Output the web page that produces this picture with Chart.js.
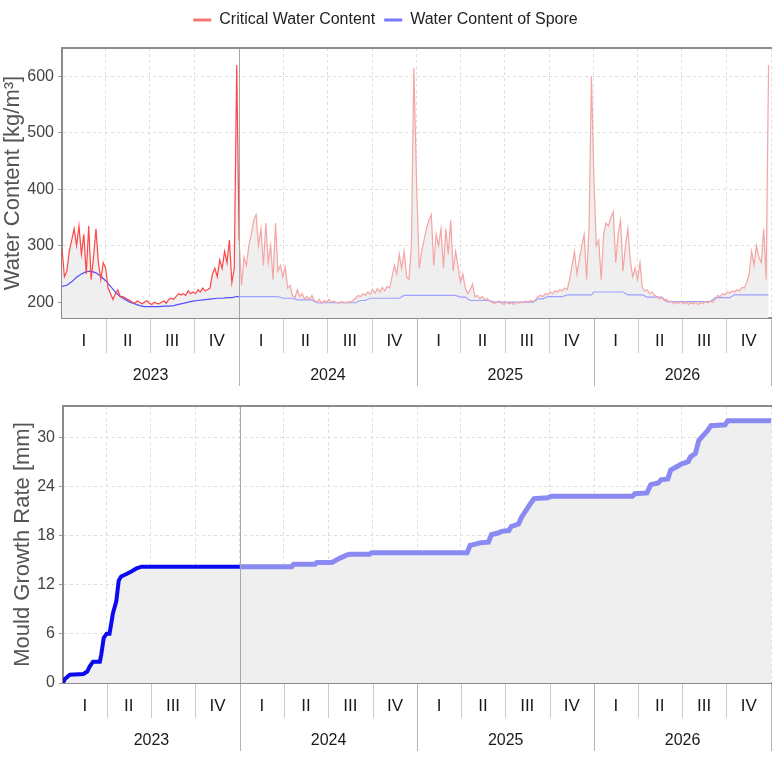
<!DOCTYPE html>
<html>
<head>
<meta charset="utf-8">
<script src="https://cdn.jsdelivr.net/npm/chart.js@4.4.0/dist/chart.umd.min.js"></script>
<style>
  body { margin: 0; background: #fff; width: 772px; height: 758px; overflow: hidden; }
  canvas { display: block; }
</style>
</head>
<body>
<canvas id="waterChart" width="772" height="390"></canvas>
<canvas id="mouldChart" width="772" height="368"></canvas>
<script>
// ---- data ----
var years = [2023, 2024, 2025, 2026];
var quarterNames = ['I', 'II', 'III', 'IV'];
var waterTicks = [200, 300, 400, 500, 600];
var mouldTicks = [0, 6, 12, 18, 24, 30];

// critical water content, one value every 5 days (day 0..360 of each year)
var critStep = 5;
var crit2023 = [295, 245, 255, 290, 310, 330, 300, 335, 285, 320,
  250, 335, 240, 280, 330, 270, 240, 270, 260, 225,
  215, 205, 215, 222, 210, 210, 208, 205, 203, 200,
  198, 202, 200, 197, 200, 203, 198, 196, 200, 198,
  197, 200, 202, 198, 205, 207, 205, 210, 215, 213,
  215, 212, 220, 215, 218, 215, 222, 218, 225, 220,
  222, 225, 250, 260, 245, 275, 260, 290, 270, 310,
  235, 260, 620];
var crit2024 = [310, 230, 280, 265, 300, 320, 345, 355, 300, 330,
  265, 340, 270, 300, 240, 340, 255, 265, 245, 262,
  225, 230, 212, 208, 222, 210, 215, 205, 210, 205,
  212, 203, 200, 205, 198, 203, 200, 205, 200, 202,
  200, 198, 201, 200, 199, 201, 200, 203, 207, 212,
  210, 215, 212, 218, 214, 222, 216, 224, 218, 226,
  220, 228, 225, 245, 265, 250, 285, 260, 290, 245,
  240, 300, 615];
var crit2025 = [400, 260, 290, 310, 330, 345, 355, 265, 320, 300,
  330, 260, 330, 285, 345, 255, 290, 265, 235, 250,
  225, 215, 222, 232, 210, 212, 206, 210, 204, 207,
  202, 200, 198, 200, 202, 198, 196, 200, 197, 199,
  196, 200, 198, 201, 199, 202, 200, 203, 201, 205,
  210, 212, 210, 215, 213, 218, 215, 220, 218, 222,
  220, 225, 222, 240, 265, 290, 250, 275, 300, 320,
  240, 330, 600];
var crit2026 = [420, 300, 310, 240, 320, 340, 335, 350, 360, 270,
  320, 345, 255, 300, 330, 275, 245, 260, 240, 270,
  225, 220, 222, 215, 218, 212, 210, 206, 208, 203,
  205, 200, 202, 197, 200, 198, 201, 197, 200, 196,
  199, 197, 200, 196, 199, 198, 201, 199, 202, 200,
  205, 212, 210, 215, 213, 218, 216, 220, 218, 222,
  220, 226, 225, 235, 250, 290, 265, 300, 280, 270,
  330, 240, 620];

// water content of spore, one value every 10 days
var sporeStep = 10;
var spore2023 = [228, 230, 236, 244, 250, 254, 255, 252, 246, 238,
  228, 218, 210, 205, 200, 197, 194, 192, 192, 192,
  192, 193, 193, 194, 196, 198, 200, 202, 203, 204,
  205, 206, 207, 207, 208, 208, 210];
var spore2024 = [210, 210, 210, 210, 210, 210, 210, 210, 210, 207,
  207, 207, 204, 204, 204, 204, 199, 199, 199, 199,
  199, 199, 199, 199, 199, 203, 203, 207, 207, 207,
  207, 207, 207, 207, 212, 212, 212];
var spore2025 = [212, 212, 212, 212, 212, 212, 212, 212, 212, 209,
  209, 203, 203, 203, 203, 203, 200, 200, 200, 200,
  200, 200, 200, 200, 200, 206, 206, 210, 210, 210,
  210, 213, 213, 213, 213, 213, 213];
var spore2026 = [218, 218, 218, 218, 218, 218, 218, 213, 213, 213,
  213, 209, 209, 209, 209, 201, 201, 201, 201, 201,
  201, 201, 201, 201, 201, 208, 208, 208, 208, 213,
  213, 213, 213, 213, 213, 213, 213];

// mould growth, breakpoints (day since 1 Jan 2023, mm)
var growthDays = [0, 4, 14, 42, 50, 55, 62, 76, 79, 84, 90, 96, 103, 110, 115, 120, 131, 141, 152, 162,
  365, 472, 476, 520, 524, 555, 570, 585, 592, 632, 637, 834, 840, 855, 860, 878, 884, 898, 905, 920,
  925, 940, 946, 966, 972, 1000, 1008, 1175, 1180, 1205, 1213, 1228, 1234, 1248, 1254, 1270, 1275,
  1290, 1295, 1305, 1312, 1330, 1337, 1366, 1372, 1461];
var growthValues = [0, 0.5, 1.0, 1.1, 1.4, 2.0, 2.6, 2.6, 3.5, 5.5, 6.0, 6.0, 8.5, 10.0, 12.5, 13.0, 13.3, 13.6, 14.0, 14.2,
  14.2, 14.2, 14.5, 14.5, 14.7, 14.7, 15.2, 15.6, 15.7, 15.7, 15.9, 15.9, 16.8, 17.0, 17.1, 17.2, 18.1, 18.3, 18.5, 18.6,
  19.1, 19.4, 20.2, 22.0, 22.5, 22.6, 22.8, 22.8, 23.1, 23.2, 24.2, 24.4, 24.8, 24.9, 26.0, 26.5, 26.7,
  27.0, 27.6, 28.0, 29.6, 30.8, 31.4, 31.5, 32.0, 32.0];

// ---- styling ----
var FONT = '"Liberation Sans", Arial, sans-serif';
var RED = 'rgb(255,70,70)', RED_FADED = 'rgb(245,165,165)';
var BLUE = 'rgb(80,80,255)', BLUE_FADED = 'rgb(160,160,255)';
var DARK_BLUE = 'rgb(10,10,240)', DARK_BLUE_FADED = 'rgb(138,138,242)';
var legendColors = ['rgb(245,120,120)', 'rgb(120,120,250)'];

function dayOf(y, m) { return (Date.UTC(y, m, 1) - Date.UTC(years[0], 0, 1)) / 864e5; }
var yearStarts = years.map(function (y) { return dayOf(y, 0); });
var lastDay = dayOf(years[years.length - 1] + 1, 0);
var firstYearEnd = yearStarts[1];
var quarterStarts = [];
years.forEach(function (y) {
  [0, 3, 6, 9].forEach(function (m) { quarterStarts.push(dayOf(y, m)); });
});
quarterStarts.push(lastDay);

function toPoints(perYear, step) {
  var pts = [];
  perYear.forEach(function (vals, k) {
    vals.forEach(function (v, i) { pts.push({ x: yearStarts[k] + i * step, y: v }); });
  });
  return pts;
}

// top frame, the solid line after the first year and the two-row time axis
var frameAndAxis = {
  id: 'frameAndAxis',
  afterDatasetsDraw: function (chart) {
    var ctx = chart.ctx, a = chart.chartArea, x = chart.scales.x;
    ctx.save();
    var px = Math.round(x.getPixelForValue(firstYearEnd)) + 0.5;
    ctx.strokeStyle = '#a8a8a8';
    ctx.lineWidth = 1;
    ctx.beginPath(); ctx.moveTo(px, a.top); ctx.lineTo(px, a.bottom); ctx.stroke();
    ctx.strokeStyle = '#8c8c8c';
    ctx.lineWidth = 2;
    ctx.beginPath(); ctx.moveTo(a.left - 1, a.top); ctx.lineTo(a.right + 2, a.top); ctx.stroke();
    ctx.restore();
  },
  afterDraw: function (chart) {
    var ctx = chart.ctx, x = chart.scales.x, b = chart.chartArea.bottom;
    ctx.save();
    ctx.lineWidth = 1;
    quarterStarts.forEach(function (d, i) {
      if (i === 0) return;
      var isYear = yearStarts.indexOf(d) >= 0 || d === lastDay;
      var px = Math.round(x.getPixelForValue(d)) + 0.5;
      ctx.strokeStyle = isYear ? '#b4b4b4' : '#cccccc';
      ctx.beginPath(); ctx.moveTo(px, b + 1); ctx.lineTo(px, b + (isYear ? 68 : 35)); ctx.stroke();
    });
    ctx.fillStyle = '#1a1a1a';
    ctx.textAlign = 'center';
    ctx.textBaseline = 'middle';
    ctx.font = '17px ' + FONT;
    for (var i = 0; i < quarterStarts.length - 1; i++) {
      var mid = x.getPixelForValue((quarterStarts[i] + quarterStarts[i + 1]) / 2);
      ctx.fillText(quarterNames[i % 4], mid, b + 23);
    }
    ctx.font = '16px ' + FONT;
    years.forEach(function (y, k) {
      var end = k + 1 < yearStarts.length ? yearStarts[k + 1] : lastDay;
      ctx.fillText(String(y), x.getPixelForValue((yearStarts[k] + end) / 2), b + 58);
    });
    ctx.restore();
  }
};

// legend box is taller than chart.js makes it
var legendSpace = {
  id: 'legendSpace',
  beforeInit: function (chart) {
    var fit = chart.legend.fit;
    chart.legend.fit = function () { fit.call(this); this.height = 45; };
  }
};

function scalesFor(yMin, yMax, yTicks, yTitle, yWidth, xHeight, titleShift) {
  return {
    x: {
      type: 'linear', min: 0, max: lastDay,
      afterBuildTicks: function (s) { s.ticks = quarterStarts.map(function (v) { return { value: v }; }); },
      afterFit: function (s) { s.height = xHeight; },
      ticks: { display: false },
      grid: { color: '#dedede', drawTicks: false },
      border: { color: '#8c8c8c', width: 2, dash: [3, 3] }
    },
    y: {
      min: yMin, max: yMax,
      afterBuildTicks: function (s) { s.ticks = yTicks.map(function (v) { return { value: v }; }); },
      afterFit: function (s) { s.width = yWidth; },
      ticks: { font: { family: FONT, size: 16 }, color: '#444', padding: 4 },
      grid: { color: '#dedede', tickLength: 4, tickColor: '#999' },
      border: { color: '#8c8c8c', width: 2, dash: [3, 3] },
      title: {
        display: true, text: yTitle, color: '#555',
        font: { family: FONT, size: 22 },
        padding: { top: titleShift, bottom: 0 }
      }
    }
  };
}

new Chart(document.getElementById('waterChart'), {
  type: 'line',
  data: {
    datasets: [{
      label: 'Critical Water Content',
      data: toPoints([crit2023, crit2024, crit2025, crit2026], critStep),
      borderColor: RED, borderWidth: 1.2, pointRadius: 0,
      fill: 'start', backgroundColor: '#efefef',
      segment: { borderColor: function (c) { return c.p0.parsed.x < firstYearEnd ? RED : RED_FADED; } }
    }, {
      label: 'Water Content of Spore',
      data: toPoints([spore2023, spore2024, spore2025, spore2026], sporeStep),
      borderColor: BLUE, borderWidth: 1.2, pointRadius: 0, fill: false,
      segment: { borderColor: function (c) { return c.p0.parsed.x < firstYearEnd ? BLUE : BLUE_FADED; } }
    }]
  },
  options: {
    responsive: false, animation: false, events: [],
    layout: { padding: { top: 3, right: 1, left: 0, bottom: 0 } },
    scales: scalesFor(172, 650, waterTicks, 'Water Content [kg/m\u00b3]', 62, 72, 0),
    plugins: {
      filler: { drawTime: 'beforeDatasetsDraw' },
      tooltip: { enabled: false },
      legend: {
        position: 'top',
        labels: {
          usePointStyle: true, pointStyle: 'line', pointStyleWidth: 18, boxHeight: 16,
          font: { family: FONT, size: 16 }, color: '#222', padding: 9,
          generateLabels: function (chart) {
            var items = Chart.defaults.plugins.legend.labels.generateLabels(chart);
            items.forEach(function (it, i) { it.strokeStyle = legendColors[i]; it.lineWidth = 3; });
            return items;
          }
        }
      }
    }
  },
  plugins: [frameAndAxis, legendSpace]
});

new Chart(document.getElementById('mouldChart'), {
  type: 'line',
  data: {
    datasets: [{
      label: 'Mould Growth Rate',
      data: growthDays.map(function (d, i) { return { x: d, y: growthValues[i] }; }),
      borderColor: DARK_BLUE, borderWidth: 4, pointRadius: 0,
      fill: 'start', backgroundColor: '#efefef',
      segment: {
        borderColor: function (c) { return c.p0.parsed.x < firstYearEnd ? DARK_BLUE : DARK_BLUE_FADED; },
        borderWidth: function (c) { return c.p0.parsed.x < firstYearEnd ? 4 : 5; }
      }
    }]
  },
  options: {
    responsive: false, animation: false, events: [],
    layout: { padding: { top: 16, right: 1, left: 0, bottom: 0 } },
    scales: scalesFor(0, 33.8, mouldTicks, 'Mould Growth Rate [mm]', 63, 75, 10),
    plugins: {
      filler: { drawTime: 'beforeDatasetsDraw' },
      tooltip: { enabled: false },
      legend: { display: false }
    }
  },
  plugins: [frameAndAxis]
});
</script>
</body>
</html>
